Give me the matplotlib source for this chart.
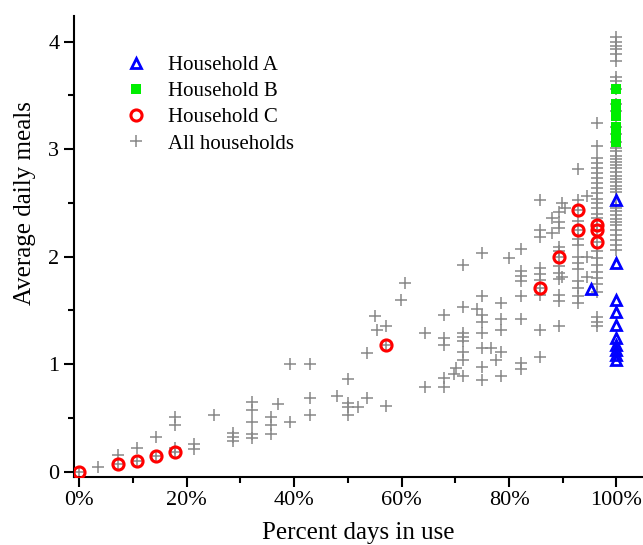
import matplotlib
matplotlib.use("Agg")
import matplotlib.pyplot as plt
from matplotlib.ticker import FuncFormatter, MultipleLocator

plt.rcParams['font.family'] = ['Liberation Serif', 'DejaVu Serif']

# Percent of days in use (%) vs average daily meals
house_a_pct = [95.24, 100, 100, 100, 100, 100, 100, 100, 100, 100, 100]
house_a_meals = [1.70, 2.53, 1.94, 1.60, 1.48, 1.36, 1.24, 1.18, 1.13, 1.08, 1.04]

house_b_pct = [100] * 10
house_b_meals = [3.56, 3.42, 3.38, 3.35, 3.31, 3.21, 3.17, 3.14, 3.10, 3.07]

house_c_pct = [0, 7.14, 10.71, 14.29, 17.86, 57.14, 85.71, 89.29, 92.86, 92.86, 96.43, 96.43, 96.43]
house_c_meals = [0.0, 0.07, 0.10, 0.14, 0.18, 1.18, 1.71, 2.00, 2.43, 2.25, 2.29, 2.25, 2.14]

# all households, one line per column of days
all_points = [
    (0, 0.0), (3.57, 0.04),
    (7.14, 0.15), (7.14, 0.07), (10.71, 0.22), (10.71, 0.10),
    (14.29, 0.32), (14.29, 0.14),
    (17.86, 0.51), (17.86, 0.43), (17.86, 0.22), (17.86, 0.18),
    (21.43, 0.26), (21.43, 0.21), (25.0, 0.53),
    (28.57, 0.36), (28.57, 0.32), (28.57, 0.28),
    (32.14, 0.65), (32.14, 0.57), (32.14, 0.46), (32.14, 0.35), (32.14, 0.31),
    (35.71, 0.51), (35.71, 0.43), (35.71, 0.35), (37.0, 0.63),
    (39.29, 1.00), (39.29, 0.46),
    (42.86, 1.00), (42.86, 0.68), (42.86, 0.53),
    (48.0, 0.70),
    (50.0, 0.86), (50.0, 0.64), (50.0, 0.60), (50.0, 0.53), (51.8, 0.60),
    (53.57, 1.10), (53.57, 0.68), (55.0, 1.45), (55.5, 1.32),
    (57.14, 1.35), (57.14, 1.18), (57.14, 0.61),
    (59.9, 1.60), (60.71, 1.75),
    (64.29, 1.29), (64.29, 0.79),
    (67.86, 1.46), (67.86, 1.24), (67.86, 1.18), (67.86, 0.87), (67.86, 0.79),
    (69.7, 0.91), (70.1, 0.96),
    (71.43, 1.92), (71.43, 1.53), (71.43, 1.29), (71.43, 1.25), (71.43, 1.21),
    (71.43, 1.11), (71.43, 1.04), (71.43, 0.89),
    (74.1, 1.51),
    (75.0, 2.03), (75.0, 1.63), (75.0, 1.46), (75.0, 1.39), (75.0, 1.29),
    (75.0, 1.15), (75.0, 0.97), (75.0, 0.85),
    (76.7, 1.15), (77.6, 1.04),
    (78.57, 1.57), (78.57, 1.42), (78.57, 1.32), (78.57, 1.11), (78.57, 0.89),
    (79.9, 1.99),
    (82.14, 2.07), (82.14, 1.87), (82.14, 1.82), (82.14, 1.77), (82.14, 1.63),
    (82.14, 1.42), (82.14, 1.01), (82.14, 0.95),
    (85.71, 2.53), (85.71, 2.25), (85.71, 2.18), (85.71, 1.89), (85.71, 1.84),
    (85.71, 1.78), (85.71, 1.71), (85.71, 1.64), (85.71, 1.32), (85.71, 1.07),
    (88.0, 2.36), (88.0, 2.22),
    (89.29, 2.41), (89.29, 2.32), (89.29, 2.27), (89.29, 2.09), (89.29, 2.05),
    (89.29, 2.00), (89.29, 1.91), (89.29, 1.85), (89.29, 1.79), (89.29, 1.64),
    (89.29, 1.59), (89.29, 1.35),
    (89.9, 2.50), (90.4, 2.45), (89.9, 1.81),
    (92.86, 2.81), (92.86, 2.53), (92.86, 2.43), (92.86, 2.33), (92.86, 2.25),
    (92.86, 2.16), (92.86, 2.11), (92.86, 2.00), (92.86, 1.94), (92.86, 1.88),
    (92.86, 1.77), (92.86, 1.71), (92.86, 1.63), (92.86, 1.57),
    (94.6, 2.56), (94.6, 2.00), (94.5, 1.81),
    (96.43, 3.24), (96.43, 3.03), (96.43, 2.92), (96.43, 2.87), (96.43, 2.82),
    (96.43, 2.78), (96.43, 2.73), (96.43, 2.68), (96.43, 2.64), (96.43, 2.59),
    (96.43, 2.54), (96.43, 2.50), (96.43, 2.45), (96.43, 2.40), (96.43, 2.36),
    (96.43, 2.29), (96.43, 2.25), (96.43, 2.14),
    (96.43, 2.05), (96.43, 1.99), (96.43, 1.92), (96.43, 1.86), (96.43, 1.80),
    (96.43, 1.74), (96.43, 1.67), (96.43, 1.44), (96.43, 1.39), (96.43, 1.35),
    (100, 4.04), (100, 4.00), (100, 3.96), (100, 3.93), (100, 3.88), (100, 3.82),
    (100, 3.67), (100, 3.63),
    (100, 3.56), (100, 3.42), (100, 3.35), (100, 3.21), (100, 3.14), (100, 3.07),
    (100, 3.01), (100, 2.98), (100, 2.94), (100, 2.91), (100, 2.88), (100, 2.85),
    (100, 2.82), (100, 2.79), (100, 2.75), (100, 2.72), (100, 2.69), (100, 2.66),
    (100, 2.63), (100, 2.60),
    (100, 2.48), (100, 2.45), (100, 2.42), (100, 2.39), (100, 2.35), (100, 2.32),
    (100, 2.29), (100, 2.25), (100, 2.20), (100, 2.15), (100, 2.11), (100, 2.06),
]

all_pct = [p for p, m in all_points]
all_meals = [m for p, m in all_points]

fig = plt.figure(figsize=(6.43, 5.45), dpi=100)
ax = fig.add_axes([0.115, 0.125, 0.883, 0.846])

ax.plot(all_pct, all_meals, linestyle='none', marker='+', color='#888888',
        markersize=8, markeredgewidth=1.1, label='All households', zorder=2)
ax.plot(house_a_pct, house_a_meals, linestyle='none', marker='^', markerfacecolor='none',
        markeredgecolor='#0000ff', markersize=7.5, markeredgewidth=2, label='Household A', zorder=3)
ax.plot(house_b_pct, house_b_meals, linestyle='none', marker='s', color='#00ee00',
        markersize=6.5, markeredgewidth=0, label='Household B', zorder=3)
ax.plot(house_c_pct, house_c_meals, linestyle='none', marker='o', markerfacecolor='none',
        markeredgecolor='#ff0000', markersize=8, markeredgewidth=2.2, label='Household C', zorder=4)

ax.set_xlim(-1.0, 104.7)
ax.set_ylim(-0.05, 4.24)
ax.xaxis.set_major_locator(MultipleLocator(20))
ax.xaxis.set_minor_locator(MultipleLocator(10))
ax.yaxis.set_major_locator(MultipleLocator(1))
ax.yaxis.set_minor_locator(MultipleLocator(0.5))
ax.xaxis.set_major_formatter(FuncFormatter(lambda v, pos: f"{v:.0f}%"))

for side in ['top', 'right']:
    ax.spines[side].set_visible(False)
for side in ['left', 'bottom']:
    ax.spines[side].set_linewidth(1.5)
ax.tick_params(which='major', direction='out', length=7, width=1.5, labelsize=16)
ax.tick_params(which='minor', direction='out', length=4, width=1.5)

ax.set_xlabel("Percent days in use", fontsize=18, labelpad=8)
ax.set_ylabel("Average daily meals", fontsize=18)
# label in the reference sits above the axis centre
ax.yaxis.set_label_coords(-0.066, 0.594)

handles, labels = ax.get_legend_handles_labels()
order = [1, 2, 3, 0]
ax.legend([handles[i] for i in order], [labels[i] for i in order],
          loc='upper left', bbox_to_anchor=(0.055, 0.955), frameon=False,
          fontsize=15, handletextpad=0.9, labelspacing=0.32, handlelength=1.2)

fig.savefig("out.png", dpi=100)
